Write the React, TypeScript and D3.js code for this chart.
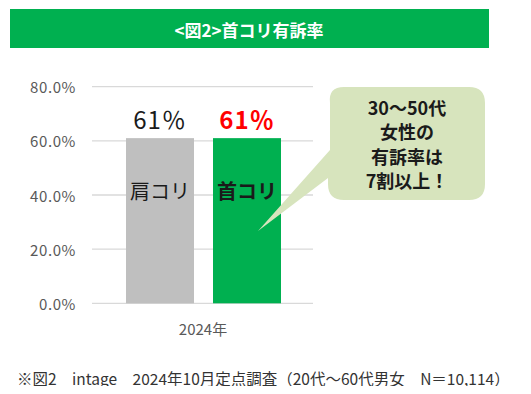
import React from "react";
import * as d3 from "d3";

const categories = ["肩コリ", "首コリ"];
const values = [0.61, 0.61];
const valueLabels = ["61％", "61％"];
const yTicks = [0, 0.2, 0.4, 0.6, 0.8];
const xCategory = ["2024年"];
const title = "<図2>首コリ有訴率";
const calloutLines = ["30～50代", "女性の", "有訴率は", "7割以上！"];
const footnote = "※図2　intage　2024年10月定点調査（20代～60代男女　N＝10,114）";

const FONT = "'Noto Sans CJK JP', 'Noto Sans', sans-serif";

export default function App() {
  const W = 531, H = 394;
  const y = d3.scaleLinear().domain([0, 0.8]).range([303.3, 86.7]);
  const x = d3.scaleBand().domain(categories).range([126, 281]).paddingInner(0.2184).paddingOuter(0);
  const barColors = ["#bfbfbf", "#00b050"];
  const labelColors = ["#1a1a1a", "#ff0000"];
  const labelWeights = [400, 700];
  const innerWeights = [400, 700];

  // callout
  const cx0 = 328, cx1 = 485, cy0 = 87, cy1 = 200, r = 16;
  const tip = [258, 231];
  const tailA = [330, 150];
  const tailB = [330, 178];
  const lineH = d3.scaleLinear().domain([0, 3]).range([107, 180]);

  return (
    <div style={{ margin: -8 }}>
      <svg width={W} height={H} style={{ display: "block", background: "#fff" }}>
        <rect x={10} y={9} width={479} height={39} fill="#00b050" />
        <text x={249} y={29} textAnchor="middle" dominantBaseline="central" fill="#fff"
          fontFamily={FONT} fontWeight={700} fontSize={17}>{title}</text>

        {yTicks.map((t) => (
          <g key={t}>
            <line x1={92} x2={313} y1={y(t)} y2={y(t)} stroke="#d9d9d9" strokeWidth={1.3} />
            <text x={76} y={y(t)} textAnchor="end" dominantBaseline="central" fill="#595959"
              fontFamily={FONT} fontSize={15} letterSpacing={0.6}>{d3.format(".1%")(t)}</text>
          </g>
        ))}

        {categories.map((c, i) => (
          <g key={c}>
            <rect x={x(c)!} y={y(values[i])} width={x.bandwidth()} height={y(0) - y(values[i])} fill={barColors[i]} />
            <text x={x(c)! + x.bandwidth() / 2} y={y(values[i]) - 20} textAnchor="middle" dominantBaseline="central"
              fill={labelColors[i]} fontFamily={FONT} fontWeight={labelWeights[i]} fontSize={24} letterSpacing={1}>{valueLabels[i]}</text>
            <text x={x(c)! + x.bandwidth() / 2} y={190} textAnchor="middle" dominantBaseline="central"
              fill="#1a1a1a" fontFamily={FONT} fontWeight={innerWeights[i]} fontSize={20}>{c}</text>
          </g>
        ))}

        <text x={203} y={328} textAnchor="middle" dominantBaseline="central" fill="#595959"
          fontFamily={FONT} fontSize={15}>{xCategory[0]}</text>

        <path d={`M${cx0 + r},${cy0} H${cx1 - r} Q${cx1},${cy0} ${cx1},${cy0 + r} V${cy1 - r} Q${cx1},${cy1} ${cx1 - r},${cy1} H${cx0 + r} Q${cx0},${cy1} ${cx0},${cy1 - r} V${tailB[1]} L${tip[0]},${tip[1]} L${tailA[0]},${tailA[1]} V${cy0 + r} Q${cx0},${cy0} ${cx0 + r},${cy0} Z`}
          fill="#d7e4bd" />
        {calloutLines.map((l, i) => (
          <text key={i} x={407} y={lineH(i)} textAnchor="middle" dominantBaseline="central" fill="#1a1a1a"
            fontFamily={FONT} fontWeight={700} fontSize={18}>{l}</text>
        ))}

        <text x={17} y={378} dominantBaseline="central" fill="#333"
          fontFamily={FONT} fontSize={15.5}>{footnote}</text>
      </svg>
    </div>
  );
}
